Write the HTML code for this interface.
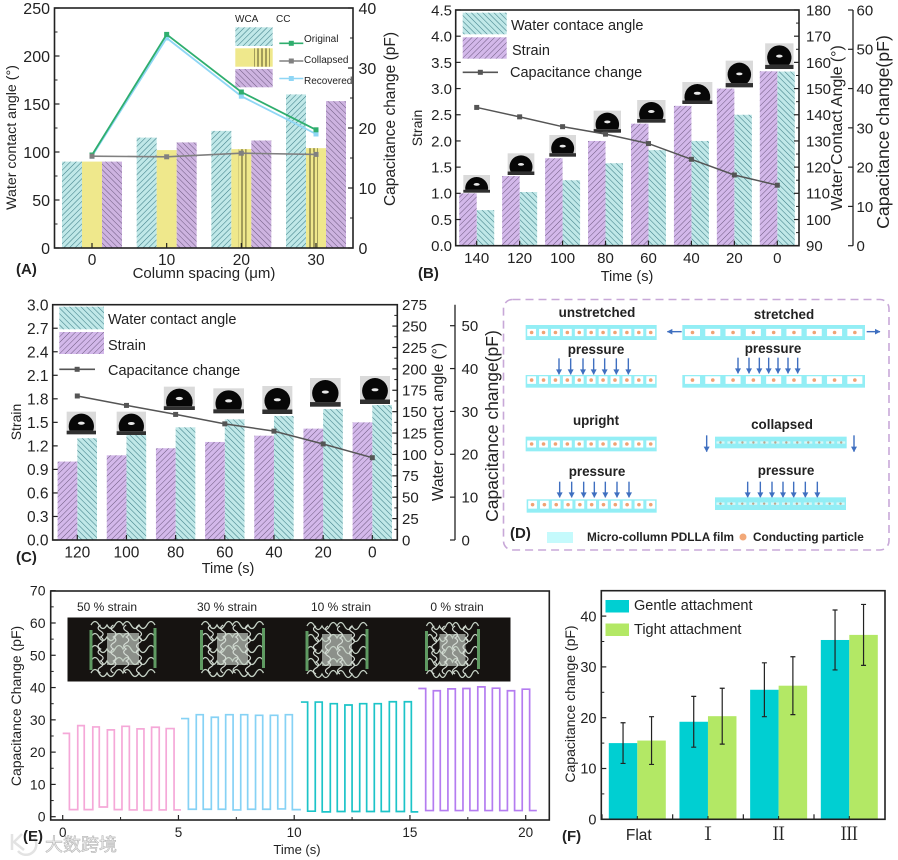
<!DOCTYPE html>
<html lang="en">
<head>
<meta charset="utf-8">
<title>Capacitive sensor figure</title>
<style>
html,body{margin:0;padding:0;background:#fff;width:898px;height:860px;overflow:hidden}
svg{display:block;filter:blur(.35px)}
text{font-family:"Liberation Sans","Noto Sans CJK SC",sans-serif;fill:#222}
.b{font-weight:bold}
</style>
</head>
<body>
<svg id="fig" width="898" height="860" viewBox="0 0 898 860" xmlns="http://www.w3.org/2000/svg">
<defs>
<pattern id="tealF" width="4" height="4" patternUnits="userSpaceOnUse" patternTransform="rotate(45)"><rect width="4" height="4" fill="#c0e8e8"/><line x1="0" y1="0" x2="0" y2="4" stroke="#3f7f88" stroke-width="1.1"/></pattern>
<pattern id="tealB" width="4" height="4" patternUnits="userSpaceOnUse" patternTransform="rotate(-45)"><rect width="4" height="4" fill="#c0e8e8"/><line x1="0" y1="0" x2="0" y2="4" stroke="#3f7f88" stroke-width="1.1"/></pattern>
<pattern id="purpleF" width="4" height="4" patternUnits="userSpaceOnUse" patternTransform="rotate(45)"><rect width="4" height="4" fill="#d3b8ea"/><line x1="0" y1="0" x2="0" y2="4" stroke="#6d5a80" stroke-width="1"/></pattern>
<pattern id="purpleB" width="4" height="4" patternUnits="userSpaceOnUse" patternTransform="rotate(-45)"><rect width="4" height="4" fill="#cdb3e0"/><line x1="0" y1="0" x2="0" y2="4" stroke="#6d5a80" stroke-width="1"/></pattern>
<pattern id="yellowV" width="4" height="4" patternUnits="userSpaceOnUse"><rect width="4" height="4" fill="#efe88c"/><line x1="2" y1="0" x2="2" y2="4" stroke="#55502a" stroke-width="1"/></pattern>
</defs>

<g id="panel-a">
  <g id="a-marks"></g>
  <text transform="rotate(-90 16 137.5)" x="16" y="137.5" text-anchor="middle" font-size="14.2">Water contact angle (°)</text>
  <text transform="rotate(-90 395 119)" x="395" y="119" text-anchor="middle" font-size="15.5">Capacitance change (pF)</text>
  <text x="204" y="278" text-anchor="middle" font-size="15">Column spacing (μm)</text>
  <text class="b" x="16" y="274" font-size="15">(A)</text>
  <text x="235" y="22" font-size="10">WCA</text>
  <text x="276" y="22" font-size="10">CC</text>
  <text x="304" y="42" font-size="10">Original</text>
  <text x="304" y="63" font-size="10">Collapsed</text>
  <text x="304" y="84" font-size="10">Recovered</text>
</g>

<g id="panel-b">
  <g id="b-marks"></g>
  <text transform="rotate(-90 422 128)" x="422" y="128" text-anchor="middle" font-size="14">Strain</text>
  <text transform="rotate(-90 842 128)" x="842" y="128" text-anchor="middle" font-size="15.8">Water Contact Angle (°)</text>
  <text transform="rotate(-90 889 132)" x="889" y="132" text-anchor="middle" font-size="17.7">Capacitance change(pF)</text>
  <text x="627" y="281" text-anchor="middle" font-size="14.5">Time (s)</text>
  <text class="b" x="418" y="278" font-size="15">(B)</text>
  <text x="511" y="30" font-size="14.5">Water contace angle</text>
  <text x="512" y="55" font-size="14.5">Strain</text>
  <text x="510" y="77" font-size="14.5">Capacitance change</text>
</g>

<g id="panel-c">
  <g id="c-marks"></g>
  <text transform="rotate(-90 21 422)" x="21" y="422" text-anchor="middle" font-size="14">Strain</text>
  <text transform="rotate(-90 443 422)" x="443" y="422" text-anchor="middle" font-size="15.5">Water contact angle (°)</text>
  <text transform="rotate(-90 498 426)" x="498" y="426" text-anchor="middle" font-size="17.5">Capacitance change(pF)</text>
  <text x="228" y="573" text-anchor="middle" font-size="14.5">Time (s)</text>
  <text class="b" x="16" y="562" font-size="15">(C)</text>
  <text x="108" y="324" font-size="14.5">Water contact angle</text>
  <text x="108" y="350" font-size="14.5">Strain</text>
  <text x="108" y="375" font-size="14.5">Capacitance change</text>
</g>

<g id="panel-d">
  <rect x="503.5" y="299.5" width="385.5" height="250.5" rx="9" fill="none" stroke="#c8a8d8" stroke-width="1.6" stroke-dasharray="8 5"/>
  <g id="d-marks"></g>
  <g font-size="13.4" class="b" text-anchor="middle">
    <text class="b" x="597" y="317">unstretched</text>
    <text class="b" x="784" y="319">stretched</text>
    <text class="b" x="596" y="354">pressure</text>
    <text class="b" x="773" y="353">pressure</text>
    <text class="b" x="596" y="425">upright</text>
    <text class="b" x="782" y="429">collapsed</text>
    <text class="b" x="597" y="476">pressure</text>
    <text class="b" x="786" y="475">pressure</text>
  </g>
  <text class="b" x="510" y="538" font-size="15">(D)</text>
  <rect x="547" y="532" width="26" height="11" fill="#c5fafc"/>
  <text class="b" x="587" y="541" font-size="11.8">Micro-collumn PDLLA film</text>
  <circle cx="743" cy="537" r="3.5" fill="#f2a878"/>
  <text class="b" x="753" y="541" font-size="11.8">Conducting particle</text>
</g>

<g id="panel-e">
  <rect x="67.5" y="617.5" width="443" height="64" fill="#161311"/>
  <g id="e-marks"></g>
  <g font-size="12" text-anchor="middle">
    <text x="107" y="611">50 % strain</text>
    <text x="227" y="611">30 % strain</text>
    <text x="341" y="611">10 % strain</text>
    <text x="457" y="611">0 % strain</text>
  </g>
  <text transform="rotate(-90 21 706)" x="21" y="706" text-anchor="middle" font-size="14">Capacitance Change (pF)</text>
  <text x="297" y="854" text-anchor="middle" font-size="13">Time (s)</text>
</g>

<g id="panel-f">
  <g id="f-marks"></g>
  <text transform="rotate(-90 575 704)" x="575" y="704" text-anchor="middle" font-size="14">Capacitance change (pF)</text>
  <text class="b" x="562" y="841" font-size="15">(F)</text>
  <rect x="605.5" y="600" width="23.5" height="12.5" fill="#00cfd2"/>
  <text x="634" y="610" font-size="14.5">Gentle attachment</text>
  <rect x="605.5" y="623.5" width="23.5" height="12.5" fill="#b3e865"/>
  <text x="634" y="634" font-size="14.5">Tight attachment</text>
</g>

<g id="watermark">
  <path d="M12 834 L12 850 M22 834 L14 842 L24 850 M18 851 A10 10 0 0 0 34 838" fill="none" stroke="#e3e3e3" stroke-width="2.5"/>
  <text x="45" y="851" font-size="18" style="font-family:'Noto Sans CJK SC',sans-serif;fill:#f0f0f0;stroke:#b5b5b5;stroke-width:.6">大数跨境</text>
  <text class="b" x="23" y="841" font-size="15">(E)</text>
</g>
</svg>

<script>
// ---------- Panel A data ----------
const aCategories = ['0', '10', '20', '30'];
const aWcaOriginal = [90, 115, 122, 160];
const aWcaCollapsed = [90, 102, 103, 104];
const aWcaRecovered = [90, 110, 112, 153];
const aCcOriginal = [15.5, 35.6, 26, 19.7];
const aCcCollapsed = [15.3, 15.2, 15.8, 15.6];
const aCcRecovered = [15.3, 35, 25.3, 19];
const aLeftTicks = [0, 50, 100, 150, 200, 250];
const aRightTicks = [0, 10, 20, 30, 40];

// ---------- Panel B data ----------
const bCategories = ['140', '120', '100', '80', '60', '40', '20', '0'];
const bStrain = [1.0, 1.33, 1.67, 2.0, 2.33, 2.67, 3.0, 3.33];
const bWca = [103.6, 110.5, 115, 121.5, 126.5, 130, 140, 156.5];
const bCap = [35.2, 32.8, 30.3, 28.4, 26, 22, 18, 15.4];
const bStrainTicks = ['0.0', '0.5', '1.0', '1.5', '2.0', '2.5', '3.0', '3.5', '4.0', '4.5'];
const bWcaTicks = [90, 100, 110, 120, 130, 140, 150, 160, 170, 180];
const bCapTicks = [0, 10, 20, 30, 40, 50, 60];

// ---------- Panel C data ----------
const cCategories = ['120', '100', '80', '60', '40', '20', '0'];
const cStrain = [1.0, 1.08, 1.17, 1.25, 1.33, 1.42, 1.5];
const cWca = [119, 122.7, 131.7, 141, 145, 153, 157.8];
const cCap = [33.6, 31.4, 29.3, 27.1, 25.4, 22.4, 19.2];
const cStrainTicks = ['0.0', '0.3', '0.6', '0.9', '1.2', '1.5', '1.8', '2.1', '2.4', '2.7', '3.0'];
const cWcaTicks = [0, 25, 50, 75, 100, 125, 150, 175, 200, 225, 250, 275];
const cCapTicks = [0, 10, 20, 30, 40, 50];

// ---------- Panel E data ----------
const ePinkEdges = [0, 0.29, 0.65, 0.93, 1.3, 1.58, 1.93, 2.23, 2.56, 2.88, 3.21, 3.51, 3.84, 4.17, 4.47, 4.81, 5.11];
const ePinkLevels = [25.8, 2.2, 28.2, 2.2, 27.8, 3, 26.9, 2.2, 28, 2.1, 27.2, 2, 27.7, 2.1, 27.3, 2.1];
const eBlueEdges = [5.11, 5.43, 5.77, 6.07, 6.42, 6.72, 7.04, 7.36, 7.69, 7.99, 8.33, 8.64, 8.97, 9.29, 9.62, 9.92, 10.29];
const eBlueLevels = [30.4, 2.3, 31.6, 2.3, 30.8, 2.3, 31.6, 2.1, 31.6, 2.3, 31.4, 2.3, 31.4, 2.4, 31.6, 2.2];
const eTealEdges = [10.29, 10.58, 10.91, 11.21, 11.56, 11.86, 12.19, 12.5, 12.83, 13.13, 13.46, 13.76, 14.11, 14.41, 14.76, 15.06, 15.36];
const eTealLevels = [35.5, 1.7, 35.5, 1.5, 35, 1.6, 34.6, 1.6, 35, 1.6, 35, 1.6, 35.6, 1.6, 35.6, 1.5];
const ePurpleEdges = [15.36, 15.68, 16.01, 16.31, 16.64, 16.96, 17.29, 17.59, 17.93, 18.24, 18.56, 18.88, 19.21, 19.52, 19.85, 20.17, 20.48];
const ePurpleLevels = [39.7, 1.9, 39, 1.9, 39.6, 1.9, 39.7, 1.9, 40.2, 1.9, 39.8, 1.9, 39, 1.9, 39.5, 1.9];
const eYTicks = [0, 10, 20, 30, 40, 50, 60, 70];
const eXTicks = [0, 5, 10, 15, 20];

// ---------- Panel F data ----------
const fCategories = ['Flat', 'Ⅰ', 'Ⅱ', 'Ⅲ'];
const fGentle = [15, 19.2, 25.5, 35.3];
const fTight = [15.5, 20.3, 26.3, 36.3];
const fGentleErr = [4, 5, 5.3, 5.9];
const fTightErr = [4.7, 5.5, 5.7, 6];
const fYTicks = [0, 10, 20, 30, 40];

// ---------- helpers ----------
const NS = 'http://www.w3.org/2000/svg';
function mk(parent, tag, attrs) {
  const el = document.createElementNS(NS, tag);
  for (const k in attrs) el.setAttribute(k, attrs[k]);
  parent.appendChild(el);
  return el;
}
const linear = (d0, d1, r0, r1) => v => r0 + (v - d0) * (r1 - r0) / (d1 - d0);

function tickMark(g, x1, y1, x2, y2, w) {
  const el = mk(g, 'line', {x1, y1, x2, y2, stroke: '#222', 'stroke-width': w});
  
  
}
function tickLabel(g, s, x, y, size, anchor) {
  const el = mk(g, 'text', {x, y, 'font-size': size, 'text-anchor': anchor});
  el.textContent = s;
  
  
  return el;
}
function vTicks(g, values, scale, axisX, dir, labelX, anchor, size, minor) {
  values.forEach((v, i) => {
    const n = +v;
    const y = scale(n);
    tickMark(g, axisX, y, axisX + dir * 5, y, 1.2);
    tickLabel(g, v, labelX, y + size * 0.36, size, anchor);
    if (minor && i < values.length - 1) {
      const m = scale((n + +values[i + 1]) / 2);
      tickMark(g, axisX, m, axisX + dir * 3, m, 1);
    }
  });
}
function hBars(g, values, x, y, bottom, width, fill, name) {
  values.forEach((v, i) => {
    const el = mk(g, 'rect', {x: x(i), y: y(v), width, height: bottom - y(v), fill});
    
    
  });
}
function series(g, values, x, y, color, size, width, name) {
  const pts = values.map((v, i) => x(i) + ',' + y(v)).join(' ');
  const line = mk(g, 'polyline', {points: pts, fill: 'none', stroke: color, 'stroke-width': width});
  
  
  values.forEach((v, i) => {
    const p = mk(g, 'rect', {x: x(i) - size / 2, y: y(v) - size / 2, width: size, height: size, fill: color});
    
    
  });
}
function frame(g, x, y, w, h) {
  const el = mk(g, 'rect', {x, y, width: w, height: h, fill: 'none', stroke: '#222', 'stroke-width': 1.6});
  
  
}
function swatch(g, x, y, w, h, fill) {
  const el = mk(g, 'rect', {x, y, width: w, height: h, fill});
  
  
}
function legendLine(g, x1, x2, y, color) {
  const el = mk(g, 'line', {x1, y1: y, x2, y2: y, stroke: color, 'stroke-width': 1.6});
  
  
  const m = mk(g, 'rect', {x: (x1 + x2) / 2 - 2.5, y: y - 2.5, width: 5, height: 5, fill: color});
  
  
}
function droplet(g, cx, y0, y1, w) {
  const h = y1 - y0;
  const box = mk(g, 'g', {});
  
  
  mk(box, 'rect', {x: cx - w / 2, y: y0, width: w, height: h, fill: '#dadada'});
  const r = w * 0.43;
  const base = y1 - h * 0.16;
  const cy = y0 + 2 + r;
  const dy = Math.min(base - cy, r * 0.97);
  const c = Math.sqrt(r * r - dy * dy);
  const chordY = cy + dy;
  mk(box, 'path', {d: 'M' + (cx - c) + ' ' + chordY + ' A' + r + ' ' + r + ' 0 ' + (dy > 0 ? 1 : 0) + ' 1 ' + (cx + c) + ' ' + chordY + ' Z', fill: '#070707'});
  mk(box, 'rect', {x: cx - w / 2, y: base, width: w, height: y1 - base, fill: '#303030'});
  mk(box, 'ellipse', {cx, cy: (y0 + 2 + base) / 2 + 1, rx: r * 0.27, ry: r * 0.12, fill: '#e8e8e8'});
}

// ---------- Panel A ----------
(function () {
  const g = document.getElementById('a-marks');
  const x = linear(0, 3, 92, 316);
  const y = linear(0, 250, 248, 8);
  const yCc = linear(0, 40, 248, 8);
  const bw = 20;
  hBars(g, aWcaOriginal, i => x(i) - 30, y, 248, bw, 'url(#tealF)', 'bar-wca-original');
  hBars(g, aWcaCollapsed, i => x(i) - 10, y, 248, bw, '#efe88c', 'bar-wca-collapsed');
  [[2, 0.35], [3, 0.05]].forEach(p => {
    const i = p[0];
    const el = mk(g, 'rect', {x: x(i) - 10 + bw * p[1], y: y(aWcaCollapsed[i]), width: bw * (p[0] === 3 ? 0.55 : 0.4), height: 248 - y(aWcaCollapsed[i]), fill: 'url(#yellowV)'});
    
    
  });
  hBars(g, aWcaRecovered, i => x(i) + 10, y, 248, bw, 'url(#purpleB)', 'bar-wca-recovered');
  swatch(g, 235.3, 27.3, 37.4, 18.7, 'url(#tealF)');
  swatch(g, 235.3, 48.3, 37.4, 18.4, '#efe88c');
  const st = mk(g, 'rect', {x: 254, y: 48.3, width: 16, height: 18.4, fill: 'url(#yellowV)'});
  
  
  swatch(g, 235.3, 69, 37.4, 18.3, 'url(#purpleB)');
  series(g, aCcRecovered, x, yCc, '#8fd6f5', 5, 1.8, 'cc-recovered');
  series(g, aCcOriginal, x, yCc, '#2fae6e', 5, 1.8, 'cc-original');
  series(g, aCcCollapsed, x, yCc, '#808080', 5, 1.6, 'cc-collapsed');
  legendLine(g, 279.3, 303.3, 43.3, '#2fae6e');
  legendLine(g, 279.3, 303.3, 61, '#808080');
  legendLine(g, 279.3, 303.3, 78.5, '#8fd6f5');
  frame(g, 54.5, 8, 298.5, 240);
  vTicks(g, aLeftTicks, y, 54.5, 1, 50, 'end', 16, true);
  vTicks(g, aRightTicks, yCc, 353, -1, 358.5, 'start', 16, true);
  aCategories.forEach((c, i) => {
    tickMark(g, x(i), 248, x(i), 243, 1.2);
    tickLabel(g, c, x(i), 265, 15.5, 'middle');
  });
})();

// ---------- Panel B ----------
(function () {
  const g = document.getElementById('b-marks');
  const x = linear(0, 7, 476.7, 777.3);
  const bot = 245.7, top = 10;
  const yS = linear(0, 4.5, bot, top);
  const yW = linear(90, 180, bot, top);
  const yC = linear(0, 60, bot, top);
  const bw = 17.5;
  hBars(g, bWca, i => x(i), yW, bot, bw, 'url(#tealB)', 'bar-water-contact-angle');
  hBars(g, bStrain, i => x(i) - bw, yS, bot, bw, 'url(#purpleF)', 'bar-strain');
  [[110,525,578,80],[243,460,525,80],[368,405,470,80],[502,332,398,82],[634,300,368,85],[772,246,312,90],[898,182,262,82],[1018,130,207,85]]
    .forEach(d => droplet(g, 440 + d[0] / 3, d[1] / 3, d[2] / 3, d[3] / 3));
  series(g, bCap, x, yC, '#555', 5, 1.5, 'capacitance-change');
  swatch(g, 462.7, 12.7, 44, 21.6, 'url(#tealB)');
  swatch(g, 462.7, 37.3, 44, 21.4, 'url(#purpleF)');
  legendLine(g, 462.7, 498, 72.3, '#555');
  frame(g, 455.7, top, 343.3, bot - top);
  vTicks(g, bStrainTicks, yS, 455.7, 1, 452, 'end', 15, false);
  vTicks(g, bWcaTicks, yW, 799, -1, 806, 'start', 15, true);
  const axis = mk(g, 'line', {x1: 853, y1: top, x2: 853, y2: bot, stroke: '#222', 'stroke-width': 1.3});
  
  
  vTicks(g, bCapTicks, yC, 853, -1, 856.5, 'start', 15, false);
  bCategories.forEach((c, i) => {
    tickMark(g, x(i), bot, x(i), bot - 5, 1.2);
    tickLabel(g, c, x(i), 263, 15, 'middle');
  });
})();

// ---------- Panel C ----------
(function () {
  const g = document.getElementById('c-marks');
  const x = linear(0, 6, 77.3, 372.3);
  const bot = 540, top = 304.7;
  const yS = linear(0, 3, bot, top);
  const yW = linear(0, 275, bot, top);
  const yC = linear(0, 50, bot, 325.7);
  const bw = 19.7;
  hBars(g, cWca, i => x(i), yW, bot, bw, 'url(#tealB)', 'bar-water-contact-angle');
  hBars(g, cStrain, i => x(i) - bw, yS, bot, bw, 'url(#purpleF)', 'bar-strain');
  [[244,365,433,88],[394,365,435,88],[538,290,360,93],[686,295,370,92],[832,288,372,90],[976,264,350,92],[1125,258,342,90]]
    .forEach(d => droplet(g, d[0] / 3, 290 + d[1] / 3, 290 + d[2] / 3, d[3] / 3));
  series(g, cCap, x, yC, '#555', 5, 1.5, 'capacitance-change');
  swatch(g, 59.3, 306.7, 44.7, 22.6, 'url(#tealB)');
  swatch(g, 59.3, 332, 44.7, 22, 'url(#purpleF)');
  legendLine(g, 59.3, 95, 369.3, '#555');
  frame(g, 52.7, top, 344.6, bot - top);
  vTicks(g, cStrainTicks, yS, 52.7, 1, 48.5, 'end', 15.5, false);
  vTicks(g, cWcaTicks, yW, 397.3, -1, 402, 'start', 15, true);
  const axis = mk(g, 'line', {x1: 455, y1: top, x2: 455, y2: bot, stroke: '#222', 'stroke-width': 1.3});
  
  
  vTicks(g, cCapTicks, yC, 455, -1, 461.5, 'start', 15, false);
  cCategories.forEach((c, i) => {
    tickMark(g, x(i), bot, x(i), bot - 5, 1.2);
    tickLabel(g, c, x(i), 557.5, 15.5, 'middle');
  });
})();

// ---------- Panel D ----------
(function () {
  const g = document.getElementById('d-marks');
  const gx = v => 490 + v / 3;
  const gy = v => 290 + v / 3;
  function strip(x0, x1, y0, y1, n, slim, pressed) {
    const s = mk(g, 'g', {});
    
    
    const h = (y1 - y0) / 3;
    mk(s, 'rect', {x: gx(x0), y: gy(y0), width: (x1 - x0) / 3, height: h, fill: '#93eef5'});
    const step = ((x1 - x0) / 3) / n;
    for (let i = 0; i < n; i++) {
      const cx = gx(x0) + step * (i + 0.5);
      const cy = gy(y0) + h / 2 - (pressed ? h * 0.1 : 0);
      const cw = step * 0.74;
      const ch = slim ? h * 0.2 : h * (pressed ? 0.6 : 0.48);
      mk(s, 'rect', {x: cx - cw / 2, y: cy - ch / 2, width: cw, height: ch, fill: slim ? '#d8f7f7' : '#fff'});
      mk(s, 'circle', {cx, cy, r: slim ? 1.2 : 1.8, fill: slim ? '#b9a890' : '#f0a274'});
    }
  }
  function arrow(x1, y1, x2, y2) {
    const a = mk(g, 'g', {});
    
    
    const X1 = gx(x1), Y1 = gy(y1), X2 = gx(x2), Y2 = gy(y2);
    mk(a, 'line', {x1: X1, y1: Y1, x2: X2, y2: Y2, stroke: '#3f6fc0', 'stroke-width': 1.4});
    if (x1 === x2) {
      mk(a, 'polygon', {points: (X2 - 3) + ',' + (Y2 - 5) + ' ' + (X2 + 3) + ',' + (Y2 - 5) + ' ' + X2 + ',' + (Y2 + 0.5), fill: '#3f6fc0'});
    } else {
      const d = x2 > x1 ? 1 : -1;
      mk(a, 'polygon', {points: (X2 - d * 5) + ',' + (Y2 - 2.8) + ' ' + (X2 - d * 5) + ',' + (Y2 + 2.8) + ' ' + (X2 + d * 0.5) + ',' + Y2, fill: '#3f6fc0'});
    }
  }
  strip(107, 500, 105, 150, 11);
  strip(577, 1125, 105, 150, 9);
  arrow(575, 125, 532, 125);
  arrow(1130, 125, 1170, 125);
  [207, 242, 279, 311, 344, 379, 415].forEach(x => arrow(x, 205, x, 253));
  strip(107, 500, 255, 293, 11, false, true);
  [744, 777, 808, 836, 864, 894, 923].forEach(x => arrow(x, 203, x, 250));
  strip(577, 1125, 255, 293, 9, false, true);
  strip(107, 500, 440, 484, 11);
  strip(675, 1070, 440, 475, 12, true);
  arrow(650, 436, 650, 485);
  arrow(1092, 436, 1092, 485);
  [209, 245, 281, 313, 346, 381, 417].forEach(x => arrow(x, 575, x, 622));
  strip(110, 500, 628, 668, 11, false, true);
  [773, 811, 846, 879, 911, 946, 982].forEach(x => arrow(x, 575, x, 622));
  strip(675, 1068, 622, 660, 12, true);
})();

// ---------- Panel E ----------
(function () {
  const g = document.getElementById('e-marks');
  const x = linear(0, 20, 62.7, 525.7);
  const y = linear(0, 70, 816.7, 590.7);
  function mesh(cx, cy, half) {
    const m = mk(g, 'g', {});
    
    
    mk(m, 'rect', {x: cx - half * 0.5, y: cy - 16, width: half, height: 32, fill: '#8c908a'});
    [-24, -12, 0, 12, 24].forEach(off => {
      let d = 'M' + (cx - half) + ' ' + (cy + off);
      const n = 4, w = 2 * half / n;
      for (let i = 0; i < n; i++) {
        d += ' q' + (w / 4) + ' ' + (i % 2 ? 7 : -7) + ' ' + (w / 2) + ' 0 q' + (w / 4) + ' ' + (i % 2 ? -7 : 7) + ' ' + (w / 2) + ' 0';
      }
      mk(m, 'path', {d, fill: 'none', stroke: '#c4d0c4', 'stroke-width': 1.3});
    });
    [-0.7, -0.3, 0.1, 0.5].forEach(off => {
      let d = 'M' + (cx + off * half) + ' ' + (cy - 24);
      for (let i = 0; i < 4; i++) {
        d += ' q' + (i % 2 ? 5 : -5) + ' 3 0 6 q' + (i % 2 ? -5 : 5) + ' 3 0 6';
      }
      mk(m, 'path', {d, fill: 'none', stroke: '#d5dcd5', 'stroke-width': 1.2});
    });
    mk(m, 'rect', {x: cx - half - 1.5, y: cy - 19, width: 3, height: 40, fill: '#5f9a62'});
    mk(m, 'rect', {x: cx + half - 1.5, y: cy - 21, width: 3, height: 40, fill: '#5f9a62'});
  }
  mesh(123, 649, 32);
  mesh(232.5, 649, 31);
  mesh(337, 650, 30);
  mesh(452.5, 650, 26);
  function wave(edges, levels, color, name) {
    let d = '';
    levels.forEach((lv, i) => {
      d += (i === 0 ? 'M' : 'L') + x(edges[i]) + ' ' + y(lv) + ' L' + x(edges[i + 1]) + ' ' + y(lv) + ' ';
    });
    const p = mk(g, 'path', {d, fill: 'none', stroke: color, 'stroke-width': 1.7});
    
    
  }
  wave(ePinkEdges, ePinkLevels, '#f5a8d8', 'series-50-percent-strain');
  wave(eBlueEdges, eBlueLevels, '#86d2f5', 'series-30-percent-strain');
  wave(eTealEdges, eTealLevels, '#1cc4c8', 'series-10-percent-strain');
  wave(ePurpleEdges, ePurpleLevels, '#b47cf0', 'series-0-percent-strain');
  frame(g, 50.7, 591, 498.6, 229);
  vTicks(g, eYTicks, y, 50.7, 1, 45.5, 'end', 14, true);
  eXTicks.forEach((t, i) => {
    tickMark(g, x(t), 820, x(t), 815, 1.2);
    tickLabel(g, t, x(t), 837, 13.5, 'middle');
    if (i < eXTicks.length - 1) tickMark(g, x(t + 2.5), 820, x(t + 2.5), 817, 1);
  });
})();

// ---------- Panel F ----------
(function () {
  const g = document.getElementById('f-marks');
  const x = linear(0, 3, 637.3, 849.3);
  const y = linear(0, 45, 819.3, 590.7);
  const bw = 28.5;
  hBars(g, fGentle, i => x(i) - bw, y, 819.3, bw, '#00cfd2', 'bar-gentle-attachment');
  hBars(g, fTight, i => x(i), y, 819.3, bw, '#b3e865', 'bar-tight-attachment');
  function errs(vals, errors, off, name) {
    vals.forEach((v, i) => {
      const cx = x(i) + off;
      const hi = y(v + errors[i]), lo = y(v - errors[i]);
      const e = mk(g, 'path', {d: 'M' + cx + ' ' + hi + ' V' + lo + ' M' + (cx - 2.5) + ' ' + hi + ' h5 M' + (cx - 2.5) + ' ' + lo + ' h5', fill: 'none', stroke: '#222', 'stroke-width': 1.2});
      
      
    });
  }
  errs(fGentle, fGentleErr, -bw / 2, 'error-bar-gentle');
  errs(fTight, fTightErr, bw / 2, 'error-bar-tight');
  frame(g, 601.3, 590.7, 283.7, 228.6);
  vTicks(g, fYTicks, y, 601.3, 1, 596.5, 'end', 14.5, true);
  fCategories.forEach((c, i) => {
    const lx = x(i) + (i === 0 ? 1.5 : 0);
    tickMark(g, x(i) - 35.3, 819.3, x(i) - 35.3, 814.3, 1.2);
    tickMark(g, x(i), 819.3, x(i), 816, 1);
    const t = tickLabel(g, c, lx, 840, i === 0 ? 15.5 : 18, 'middle');
    if (i > 0) t.style.fontFamily = '"Noto Serif CJK SC", serif';
  });
})();
</script>
</body>
</html>
